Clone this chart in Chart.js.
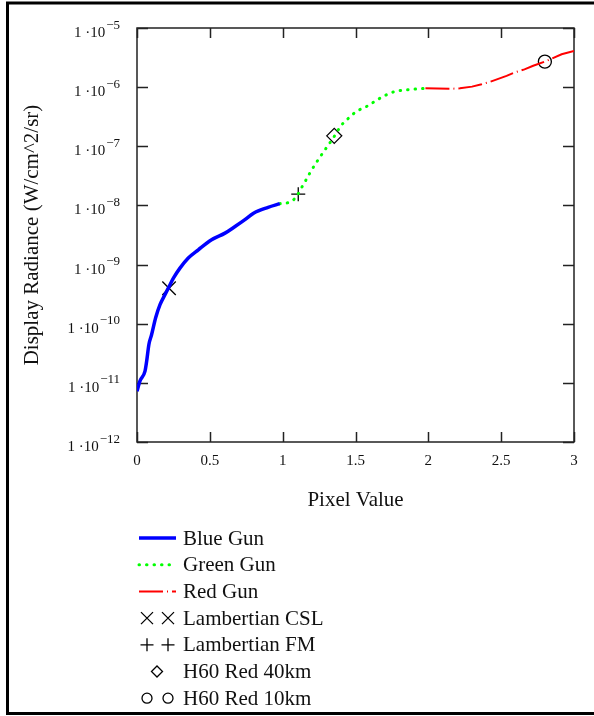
<!DOCTYPE html>
<html>
<head>
<meta charset="utf-8">
<script src="https://cdn.jsdelivr.net/npm/chart.js@4.4.1/dist/chart.umd.min.js"></script>
<style>
html, body { margin: 0; padding: 0; background: #fff; }
canvas { display: block; }
</style>
</head>
<body>
<canvas id="radiance-chart" width="594" height="716"></canvas>
<script>
// Datos (radiancia en W/cm^2/sr)
const blueX = [0, 0.02, 0.055, 0.066, 0.082, 0.1, 0.128, 0.158, 0.192, 0.215, 0.25, 0.295, 0.352, 0.421, 0.512, 0.604, 0.673, 0.741, 0.8, 0.9, 0.98];
const blueY = [7.2e-12, 1.07e-11, 1.58e-11, 2.3e-11, 4.5e-11, 6.5e-11, 1.26e-10, 2.1e-10, 3.1e-10, 4.0e-10, 5.9e-10, 8.7e-10, 1.29e-9, 1.78e-9, 2.63e-9, 3.4e-9, 4.4e-9, 5.75e-9, 7.4e-9, 9.3e-9, 1.07e-8];

const greenX = [0.98, 1.06, 1.1, 1.12, 1.153, 1.187, 1.233, 1.29, 1.347, 1.405, 1.45, 1.508, 1.576, 1.668, 1.76, 1.874, 1.98];
const greenY = [1.07e-8, 1.17e-8, 1.48e-8, 1.82e-8, 2.5e-8, 3.55e-8, 5.4e-8, 8.7e-8, 1.38e-7, 2.3e-7, 2.95e-7, 3.9e-7, 4.7e-7, 6.5e-7, 8.3e-7, 9.1e-7, 9.55e-7];

const redX = [1.98, 2.164, 2.217, 2.3, 2.366, 2.423, 2.48, 2.537, 2.594, 2.66, 2.72, 2.8, 2.915, 3.0];
const redY = [9.55e-7, 9.4e-7, 9.55e-7, 1.02e-6, 1.12e-6, 1.23e-6, 1.38e-6, 1.55e-6, 1.78e-6, 2.0e-6, 2.3e-6, 2.7e-6, 3.6e-6, 4.1e-6];

// Puntos de referencia
const cslX = [0.22];
const cslY = [3.98e-10];
const fmX = [1.107];
const fmY = [1.55e-8];
const h40X = [1.354];
const h40Y = [1.5e-7];
const h10X = [2.8];
const h10Y = [2.7e-6];

const xTicks = [0, 0.5, 1, 1.5, 2, 2.5, 3];
const yTicks = [1e-12, 1e-11, 1e-10, 1e-9, 1e-8, 1e-7, 1e-6, 1e-5];

const serif = "'Liberation Serif', 'Times New Roman', serif";
const tinta = '#111';

function pares(xs, ys) {
    return xs.map((x, i) => ({ x: x, y: ys[i] }));
}

// dibuja un simbolo igual que los del grafico (para la leyenda)
function marca(c, estilo, r, x, y) {
    c.beginPath();
    if (estilo === 'crossRot') {
        const d = r * Math.SQRT1_2;
        c.moveTo(x - d, y - d); c.lineTo(x + d, y + d);
        c.moveTo(x - d, y + d); c.lineTo(x + d, y - d);
    } else if (estilo === 'cross') {
        c.moveTo(x - r, y); c.lineTo(x + r, y);
        c.moveTo(x, y - r); c.lineTo(x, y + r);
    } else if (estilo === 'rectRot') {
        c.moveTo(x - r, y); c.lineTo(x, y - r); c.lineTo(x + r, y); c.lineTo(x, y + r);
        c.closePath();
    } else {
        c.arc(x, y, r, 0, Math.PI * 2);
    }
    c.stroke();
}

const marco = {
    id: 'marco',
    beforeDraw(chart) {
        const c = chart.ctx;
        c.save();
        c.fillStyle = '#fff';
        c.fillRect(0, 0, chart.width, chart.height);
        c.lineWidth = 3;
        c.strokeStyle = '#000';
        c.strokeRect(7.5, 3, 700, 710.5);
        c.restore();
    },
    beforeDatasetsDraw(chart) {
        const c = chart.ctx;
        const a = chart.chartArea;
        const sx = chart.scales.x;
        const sy = chart.scales.y;
        c.save();
        c.strokeStyle = '#222';
        c.lineWidth = 1.5;
        c.strokeRect(a.left, a.top, a.right - a.left, a.bottom - a.top);
        c.beginPath();
        xTicks.forEach(v => {
            const px = Math.round(sx.getPixelForValue(v)) + 0.5;
            c.moveTo(px, a.bottom); c.lineTo(px, a.bottom - 10);
            c.moveTo(px, a.top); c.lineTo(px, a.top + 10);
        });
        yTicks.forEach(v => {
            const py = Math.round(sy.getPixelForValue(v)) + 0.5;
            c.moveTo(a.left, py); c.lineTo(a.left + 11, py);
            c.moveTo(a.right, py); c.lineTo(a.right - 11, py);
        });
        c.stroke();

        // etiquetas del eje Y con exponente
        c.fillStyle = tinta;
        c.textAlign = 'right';
        c.textBaseline = 'alphabetic';
        yTicks.forEach(v => {
            const py = sy.getPixelForValue(v);
            const exp = '\u2212' + Math.abs(Math.round(Math.log10(v)));
            c.font = '13px ' + serif;
            const w = c.measureText(exp).width;
            c.fillText(exp, 120, py + 0.5);
            c.font = '15px ' + serif;
            c.fillText('1 \u00b710', 120 - w - 1, py + 9);
        });
        c.restore();
    },
    afterDraw(chart) {
        const c = chart.ctx;
        const ds = chart.data.datasets;
        c.save();
        c.font = '21px ' + serif;
        c.textBaseline = 'middle';
        c.textAlign = 'left';
        ds.forEach((d, i) => {
            const y = 538 + i * 26.7;
            c.strokeStyle = d.borderColor;
            c.fillStyle = tinta;
            if (d.showLine) {
                c.save();
                c.lineWidth = d.borderWidth;
                c.lineCap = d.borderCapStyle || 'butt';
                c.setLineDash(d.borderDash || []);
                c.beginPath();
                c.moveTo(139, y); c.lineTo(176, y);
                c.stroke();
                c.restore();
            } else {
                c.lineWidth = d.borderWidth;
                const r = d.legendRadius;
                if (d.pointStyle === 'rectRot') {
                    marca(c, d.pointStyle, r, 157, y);
                } else {
                    marca(c, d.pointStyle, r, 147, y);
                    marca(c, d.pointStyle, r, 168, y);
                }
            }
            c.fillStyle = tinta;
            c.fillText(d.label, 183, y + 1);
        });
        c.restore();
    }
};

const ctx = document.getElementById('radiance-chart').getContext('2d');
const myChart = new Chart(ctx, {
    type: 'scatter',
    data: {
        datasets: [{
            label: 'Blue Gun',
            data: pares(blueX, blueY),
            showLine: true,
            borderColor: '#0000ff',
            borderWidth: 3.5,
            pointRadius: 0,
            cubicInterpolationMode: 'monotone'
        }, {
            label: 'Green Gun',
            data: pares(greenX, greenY),
            showLine: true,
            borderColor: '#00ff00',
            borderWidth: 3,
            borderDash: [0.5, 7],
            borderCapStyle: 'round',
            pointRadius: 0,
            cubicInterpolationMode: 'monotone'
        }, {
            label: 'Red Gun',
            data: pares(redX, redY),
            showLine: true,
            borderColor: '#ff0000',
            borderWidth: 2,
            borderDash: [24, 4, 1, 4],
            pointRadius: 0
        }, {
            label: 'Lambertian CSL',
            data: pares(cslX, cslY),
            showLine: false,
            pointStyle: 'crossRot',
            pointRadius: 9.5,
            legendRadius: 8.5,
            borderColor: '#000',
            backgroundColor: 'transparent',
            borderWidth: 1.3
        }, {
            label: 'Lambertian FM',
            data: pares(fmX, fmY),
            showLine: false,
            pointStyle: 'cross',
            pointRadius: 7,
            legendRadius: 6.5,
            borderColor: '#000',
            backgroundColor: 'transparent',
            borderWidth: 1.3
        }, {
            label: 'H60 Red 40km',
            data: pares(h40X, h40Y),
            showLine: false,
            pointStyle: 'rectRot',
            pointRadius: 7.5,
            legendRadius: 5.5,
            borderColor: '#000',
            backgroundColor: 'transparent',
            borderWidth: 1.3
        }, {
            label: 'H60 Red 10km',
            data: pares(h10X, h10Y),
            showLine: false,
            pointStyle: 'circle',
            pointRadius: 6.5,
            legendRadius: 5,
            borderColor: '#000',
            backgroundColor: 'transparent',
            borderWidth: 1.3
        }]
    },
    options: {
        responsive: false,
        devicePixelRatio: 1,
        animation: false,
        events: [],
        layout: {
            padding: { top: 28, right: 20, left: 0, bottom: 0 }
        },
        scales: {
            x: {
                type: 'linear',
                min: 0,
                max: 3,
                afterBuildTicks: s => { s.ticks = xTicks.map(v => ({ value: v })); },
                afterFit: s => { s.height = 274; },
                grid: { display: false, drawTicks: false },
                border: { display: false },
                ticks: {
                    color: tinta,
                    padding: 10,
                    font: { family: serif, size: 15 },
                    callback: v => String(v)
                },
                title: {
                    display: true,
                    text: 'Pixel Value',
                    color: tinta,
                    font: { family: serif, size: 21 },
                    padding: { top: 0, bottom: 203 }
                }
            },
            y: {
                type: 'logarithmic',
                min: 1e-12,
                max: 1e-5,
                afterBuildTicks: s => { s.ticks = yTicks.map(v => ({ value: v })); },
                afterFit: s => { s.width = 137; },
                grid: { display: false, drawTicks: false },
                border: { display: false },
                ticks: {
                    callback: () => ''
                },
                title: {
                    display: true,
                    text: 'Display Radiance (W/cm^2/sr)',
                    color: tinta,
                    font: { family: serif, size: 21 },
                    padding: { top: 20, bottom: 0 }
                }
            }
        },
        plugins: {
            legend: { display: false },
            tooltip: { enabled: false }
        }
    },
    plugins: [marco]
});
</script>
</body>
</html>
